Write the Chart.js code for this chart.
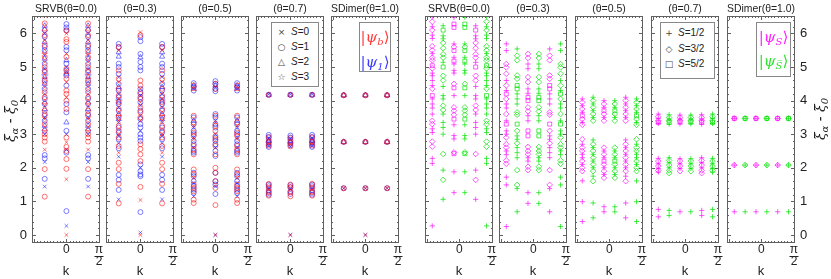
<!DOCTYPE html>
<html>
<head>
<meta charset="utf-8">
<script src="https://cdn.jsdelivr.net/npm/chart.js@4.4.1/dist/chart.umd.min.js"></script>
<style>
  html, body { margin: 0; padding: 0; background: #fff; }
  #fig { position: relative; width: 831px; height: 279px; overflow: hidden; font-family: "Liberation Sans", Arial, sans-serif; color: #222; }
  .panel { position: absolute; top: 0; height: 279px; }
  .ylab { position: absolute; width: 80px; height: 20px; line-height: 20px; text-align: center; transform: rotate(-90deg);
          font-family: "DejaVu Serif", serif; font-size: 14px; font-style: italic; white-space: nowrap; }
  .ylab sub { font-size: 10px; vertical-align: -3px; line-height: 0; }
  .box { position: absolute; border: 1.5px solid #888; background: #fff; box-sizing: border-box; }
  .mk { position: absolute; width: 12px; margin-left: -6px; text-align: center; font-family: "DejaVu Sans", sans-serif; font-size: 9px; color: #444; height: 14px; line-height: 14px; }
  .lt { position: absolute; font-size: 10px; height: 14px; line-height: 14px; white-space: nowrap; color: #222; }
  .ket { position: absolute; left: 0; width: 100%; text-align: center; font-family: "DejaVu Serif", serif; font-size: 15px; height: 20px; line-height: 20px; white-space: nowrap; }
  .ket sub { font-size: 10px; vertical-align: -3px; line-height: 0; }
</style>
</head>
<body>
<div id="fig"></div>
<script>
// ---- data: entanglement levels [xi_alpha - xi_0, S] per momentum column ----
// left group, |psi_b> (red) and |psi_1> (blue); side = k = +-pi/3, mid = k = 0
const PB_SIDE_00 = [[6.53,0],[6.3,1],[6.12,2],[5.95,1],[5.8,0],[5.65,1],[5.45,2],[5.3,1],[5.15,0],[5.0,1],[4.85,1],[4.7,2],[4.55,1],[4.4,0],[4.25,1],[4.1,1],[3.95,2],[3.85,0],[3.7,1],[3.55,1],[3.45,0],[3.3,1],[3.15,2],[3.0,1],[2.9,1],[2.78,1],[2.54,0],[1.96,1],[1.14,1]];
const PB_MID_00 = [[6.08,1],[6.0,0],[5.83,1],[5.75,1],[5.4,0],[5.3,1],[4.95,1],[4.85,2],[4.65,1],[4.55,0],[4.3,1],[4.2,1],[4.1,0],[4.0,1],[3.75,1],[2.9,1],[2.76,0],[2.62,1],[2.5,1],[2.26,1],[1.97,1],[1.66,0],[0,0]];
const P1_SIDE_00 = [[6.23,2],[6.1,1],[6.0,0],[5.9,1],[5.75,2],[5.6,1],[5.5,1],[5.35,0],[5.25,2],[5.1,1],[4.95,0],[4.9,1],[4.75,3],[4.6,1],[4.5,2],[4.35,1],[4.2,0],[4.05,1],[3.9,1],[3.75,2],[3.6,1],[3.5,0],[3.4,1],[3.25,2],[3.1,1],[3.0,0],[2.38,1],[2.28,1],[2.17,0],[1.67,1],[1.44,0]];
const P1_MID_00 = [[6.28,1],[6.18,1],[6.1,1],[5.6,1],[5.5,1],[5.2,2],[5.1,1],[5.0,0],[4.9,1],[4.8,2],[4.75,1],[4.45,1],[3.9,1],[3.65,1],[3.35,2],[3.1,1],[3.0,0],[2.55,0],[2.45,1],[0.71,1],[0.27,0]];

const PB_SIDE_03 = [[5.6,1],[5.5,0],[4.9,1],[4.65,1],[4.55,0],[4.35,1],[4.15,1],[4.05,0],[3.95,1],[3.75,1],[3.6,2],[3.5,1],[3.4,0],[3.25,1],[3.1,1],[3.0,0],[2.9,1],[2.65,1],[2.45,0],[2.15,1],[1.96,1],[1.52,1],[0.94,1]];
const PB_MID_03 = [[6.04,0],[5.95,1],[4.6,1],[4.45,1],[4.35,0],[4.2,1],[4.05,1],[3.95,0],[3.8,1],[3.65,1],[3.5,1],[3.4,0],[2.7,1],[2.56,1],[2.4,1],[2.2,1],[1.43,1],[1.04,0],[0,0]];
const P1_SIDE_03 = [[5.69,1],[5.59,1],[5.44,2],[5.31,2],[5.1,1],[5.0,1],[4.8,1],[4.7,0],[4.5,1],[4.4,2],[4.3,1],[4.2,0],[4.1,1],[4.0,3],[3.9,1],[3.8,0],[3.7,1],[3.55,1],[3.45,2],[3.35,0],[3.2,1],[3.05,1],[2.95,0],[2.85,1],[2.73,0],[2.58,1],[2.33,0],[1.79,1],[1.64,1],[1.34,1],[1.06,0]];
const P1_MID_03 = [[5.89,1],[5.77,1],[5.39,1],[5.29,2],[5.15,1],[5.0,1],[4.9,1],[4.35,1],[4.25,1],[4.15,0],[4.1,1],[3.95,1],[3.85,0],[3.7,1],[3.55,0],[3.45,1],[3.3,1],[3.2,1],[3.1,0],[3.0,1],[2.9,1],[2.8,1],[2.1,1],[2.0,0],[1.9,1],[1.8,1],[1.75,1],[0.68,1],[0.07,0]];

const PB_SIDE_05 = [[4.45,1],[4.35,2],[3.55,1],[3.35,1],[3.25,0],[3.05,1],[2.95,1],[2.85,0],[2.65,1],[2.55,1],[2.4,1],[1.95,1],[1.8,1],[1.7,0],[1.5,1],[1.4,1],[1.3,1],[1.05,1],[0.95,1]];
const PB_MID_05 = [[4.5,1],[4.35,1],[3.55,1],[3.35,0],[3.25,1],[3.1,1],[2.95,1],[2.85,1],[2.65,1],[2.4,1],[2.0,1],[1.85,1],[1.6,1],[1.4,1],[0.89,1],[0,0]];
const P1_SIDE_05 = [[4.52,1],[4.45,2],[4.4,1],[4.35,0],[4.3,1],[3.5,1],[3.4,2],[3.3,1],[3.2,0],[3.1,1],[3.0,1],[2.9,0],[2.8,1],[2.7,1],[2.6,0],[2.5,1],[2.45,1],[1.85,1],[1.75,1],[1.6,1],[1.55,0],[1.45,1],[1.35,1],[1.25,1],[1.15,0]];
const P1_MID_05 = [[4.58,1],[4.5,1],[4.45,2],[4.4,0],[4.35,1],[4.28,1],[3.6,1],[3.5,1],[3.4,0],[3.3,1],[3.2,1],[3.0,0],[2.9,1],[2.8,1],[2.7,1],[2.6,0],[2.5,1],[2.35,1],[1.85,1],[1.6,1],[1.5,1],[1.45,0],[1.22,1],[0,0]];

const PB_SIDE_07 = [[4.17,1],[2.9,1],[2.78,1],[2.72,0],[2.66,1],[1.52,1],[1.4,1],[1.36,0],[1.28,1],[1.17,1]];
const PB_MID_07 = [[4.17,1],[2.88,1],[2.76,1],[2.7,0],[2.64,1],[1.5,1],[1.42,1],[1.35,0],[1.27,1],[1.15,1],[0,0]];
const P1_SIDE_07 = [[4.17,1],[4.17,2],[4.19,0],[2.98,1],[2.92,1],[2.88,0],[2.83,1],[2.8,2],[2.75,1],[2.7,1],[2.65,0],[2.62,1],[1.5,1],[1.45,1],[1.38,0],[1.33,1],[1.25,1],[1.2,1]];
const P1_MID_07 = [[4.17,1],[4.17,2],[4.19,0],[2.96,1],[2.9,1],[2.86,0],[2.82,1],[2.78,2],[2.73,1],[2.68,1],[2.63,0],[1.48,1],[1.42,1],[1.37,0],[1.3,1],[1.22,1],[0,0]];

const PB_SIDE_10 = [[4.16,1],[4.16,2],[2.77,1],[2.77,2],[1.39,1],[1.39,0]];
const PB_MID_10 = [[4.16,1],[4.16,2],[2.77,1],[2.77,2],[1.39,1],[1.39,0],[0,0]];
const P1_SIDE_10 = [[4.16,1],[4.16,2],[2.77,1],[2.77,2],[1.39,1],[1.39,0]];
const P1_MID_10 = [[4.16,1],[4.16,2],[2.77,1],[2.77,2],[1.39,1],[1.39,0],[0,0]];

// right group: three column spectra A, B, C; |psi_S> (magenta) at k=-5pi/12, pi/4, -pi/12,
// |psi_Sbar> (green) at the mirrored momenta
const PS_A_00 = [[6.5,1],[6.35,3],[6.2,1],[6.1,3],[5.95,1],[5.85,1],[5.62,3],[5.5,3],[5.4,1],[5.28,3],[5.2,3],[5.04,5],[4.96,3],[4.82,1],[4.74,1],[4.6,1],[4.45,1],[4.35,3],[4.15,5],[4.05,1],[3.9,1],[3.78,1],[3.6,1],[3.4,3],[3.3,3],[3.16,1],[3.05,1],[2.78,3],[2.63,3],[2.28,1],[2.13,1],[0.27,1]];
const PS_B_00 = [[6.23,1],[6.1,5],[5.93,1],[5.84,1],[5.72,3],[5.56,3],[5.38,3],[5.28,3],[5.14,1],[5.0,5],[4.74,3],[4.6,3],[4.42,1],[4.15,1],[4.05,1],[3.85,3],[3.72,3],[3.6,1],[3.35,1],[3.2,1],[3.0,1],[2.41,3],[1.93,1],[1.64,3],[1.06,1]];
const PS_C_00 = [[6.48,1],[6.28,5],[6.18,5],[5.69,1],[5.6,3],[5.49,5],[5.29,1],[5.18,5],[5.09,1],[4.9,1],[4.82,1],[4.5,3],[4.38,5],[4.15,1],[3.8,3],[3.7,3],[3.58,3],[3.45,5],[3.28,1],[2.96,1],[2.86,1],[2.46,3],[2.42,5],[1.88,1],[1.26,1]];

const PS_A_03 = [[5.69,1],[5.49,1],[5.09,3],[4.99,3],[4.8,3],[4.6,1],[4.45,3],[4.3,1],[4.2,5],[4.05,3],[3.9,1],[3.78,1],[3.6,3],[3.4,1],[3.3,5],[3.1,1],[3.0,1],[2.9,3],[2.7,3],[2.6,3],[2.5,1],[2.39,1],[2.22,3],[2.12,3],[1.72,1],[1.49,1],[0.25,1]];
const PS_B_03 = [[5.54,1],[5.34,3],[5.2,3],[4.75,3],[4.65,3],[4.45,5],[4.35,5],[4.2,1],[4.05,1],[3.9,1],[3.65,3],[3.58,3],[3.3,5],[3.1,3],[2.95,1],[2.85,1],[2.73,3],[2.6,1],[2.45,1],[2.3,1],[1.93,3],[1.49,3],[1.38,1],[0.69,1]];
const PS_C_03 = [[5.39,3],[5.27,3],[5.09,1],[4.95,1],[4.7,3],[4.55,3],[4.35,1],[4.22,1],[4.1,5],[4.0,5],[3.8,3],[3.68,3],[3.55,1],[3.4,1],[3.1,5],[2.95,5],[2.62,3],[2.5,3],[2.4,3],[2.3,1],[2.2,1],[2.03,3],[1.93,3],[1.26,1],[0.94,1]];

const PS_A_05 = [[4.05,1],[3.95,3],[3.85,1],[3.75,3],[3.65,1],[3.55,5],[3.45,3],[3.35,1],[3.28,3],[2.85,3],[2.7,1],[2.6,3],[2.5,3],[2.4,1],[2.3,1],[2.2,3],[2.1,1],[2.0,3],[1.9,3],[1.61,1],[0.99,1],[0.4,1]];
const PS_B_05 = [[4.1,1],[4.0,3],[3.9,1],[3.8,3],[3.7,1],[3.6,3],[3.5,1],[3.4,3],[2.83,1],[2.7,3],[2.6,1],[2.5,3],[2.4,1],[2.3,3],[2.2,1],[2.1,3],[2.0,1],[1.9,3],[1.75,1],[1.6,3],[0.95,1],[0.51,1]];
const PS_C_05 = [[4.0,1],[3.9,3],[3.8,1],[3.7,5],[3.6,3],[3.5,1],[3.4,3],[2.6,3],[2.5,1],[2.4,3],[2.3,1],[2.2,5],[2.1,3],[2.0,1],[1.9,3],[1.8,1],[1.7,3],[0.84,1],[0.69,1]];

const PS_A_07 = [[3.6,1],[3.52,3],[3.47,1],[3.4,3],[3.35,5],[3.32,1],[2.28,1],[2.2,3],[2.12,1],[2.05,3],[1.98,1],[1.92,3],[1.87,1],[0.76,1],[0.54,1]];
const PS_B_07 = [[3.58,1],[3.5,3],[3.45,1],[3.4,3],[3.35,5],[3.3,1],[2.3,1],[2.22,3],[2.15,1],[2.08,3],[2.0,1],[1.92,3],[1.84,3],[0.73,1],[0.58,1]];
const PS_C_07 = [[3.57,1],[3.5,3],[3.45,1],[3.4,3],[3.36,5],[3.31,1],[2.27,1],[2.2,3],[2.12,1],[2.05,3],[1.98,1],[1.9,3],[0.69,1]];

const PS_A_10 = [[3.47,1],[3.47,3],[3.47,5],[2.08,1],[2.08,3],[0.69,1]];
const PS_B_10 = [[3.47,1],[3.47,3],[3.47,5],[2.08,1],[2.08,3],[0.69,1]];
const PS_C_10 = [[3.47,1],[3.47,3],[3.47,5],[2.08,1],[2.08,3],[0.69,1]];

const TITLES = ['SRVB(θ=0.0)', '(θ=0.3)', '(θ=0.5)', '(θ=0.7)', 'SDimer(θ=1.0)'];
const LEFT_PSIB = [[PB_SIDE_00, PB_MID_00], [PB_SIDE_03, PB_MID_03], [PB_SIDE_05, PB_MID_05], [PB_SIDE_07, PB_MID_07], [PB_SIDE_10, PB_MID_10]];
const LEFT_PSI1 = [[P1_SIDE_00, P1_MID_00], [P1_SIDE_03, P1_MID_03], [P1_SIDE_05, P1_MID_05], [P1_SIDE_07, P1_MID_07], [P1_SIDE_10, P1_MID_10]];
const RIGHT_COLS = [[PS_A_00, PS_B_00, PS_C_00], [PS_A_03, PS_B_03, PS_C_03], [PS_A_05, PS_B_05, PS_C_05], [PS_A_07, PS_B_07, PS_C_07], [PS_A_10, PS_B_10, PS_C_10]];
const Y_TICKS = [0, 1, 2, 3, 4, 5, 6];
const LEG_LEFT = ['0', '1', '2', '3'];
const LEG_RIGHT = ['1/2', '3/2', '5/2'];

// ---- layout / style ----
const FIG_W = 831;
const PANEL_LEFT = [32, 106, 181, 256, 331, 425, 499, 575, 651, 727];
const PANEL_W = 68;
const X_MIN = -1.66, X_MAX = 1.62, Y_MIN = -0.24, Y_MAX = 6.52;
const K_SIDE = Math.PI / 3;
const K_A = 5 * Math.PI / 12, K_B = Math.PI / 4, K_C = Math.PI / 12;
const RED = 'rgba(255,0,0,0.55)', BLUE = 'rgba(0,0,255,0.5)';
const MAG = 'rgba(255,0,255,0.65)', GRN = 'rgba(0,225,0,0.7)';
const TICK_PAD = 1, TICK_LH = 12;

function starImage(color) {
    const c = document.createElement('canvas');
    c.width = 8; c.height = 8;
    const g = c.getContext('2d');
    g.strokeStyle = color; g.lineWidth = 1;
    g.beginPath();
    for (let i = 0; i < 10; i++) {
        const r = i % 2 ? 1.5 : 3.4;
        const a = -Math.PI / 2 + i * Math.PI / 5;
        g.lineTo(4 + r * Math.cos(a), 4.3 + r * Math.sin(a));
    }
    g.closePath(); g.stroke();
    return c;
}

function markerSet(data, style, r, color) {
    return { data, pointStyle: style, pointRadius: r, pointBorderColor: color,
             pointBackgroundColor: 'rgba(0,0,0,0)', pointBorderWidth: 1, showLine: false };
}

const STYLE_L = { 0: 'crossRot', 1: 'circle', 2: 'triangle' };
const RADIUS_L = { 0: 2.6, 1: 2.5, 2: 3, 3: 3 };
function leftSets(side, mid, color) {
    return [0, 1, 2, 3].map(S => {
        const data = [];
        side.forEach(([v, s]) => { if (s === S) data.push({ x: -K_SIDE, y: v }, { x: K_SIDE, y: v }); });
        mid.forEach(([v, s]) => { if (s === S) data.push({ x: 0, y: v }); });
        return markerSet(data, S === 3 ? starImage(color) : STYLE_L[S], RADIUS_L[S], color);
    }).filter(d => d.data.length);
}

const STYLE_R = { 1: 'cross', 3: 'rectRot', 5: 'rect' };
const RADIUS_R = { 1: 2.6, 3: 2.8, 5: 2.8 };
function rightSets(cols, sign, color) {
    const ks = [sign * K_A, -sign * K_B, sign * K_C];
    return [1, 3, 5].map(S => {
        const data = [];
        cols.forEach((col, j) => col.forEach(([v, s]) => { if (s === S) data.push({ x: ks[j], y: v }); }));
        return markerSet(data, STYLE_R[S], RADIUS_R[S], color);
    }).filter(d => d.data.length);
}

const axesFrame = {
    id: 'axesFrame',
    afterDatasetsDraw(chart) {
        const { ctx, chartArea: a, scales: { x, y } } = chart;
        ctx.save();
        ctx.strokeStyle = '#606060';
        ctx.lineWidth = 1;
        ctx.beginPath();
        for (let i = 0; i <= 35; i++) {
            const v = i / 5;
            if (v > Y_MAX) break;
            const py = Math.round(y.getPixelForValue(v)) + 0.5;
            const len = i % 5 === 0 ? 4 : 2;
            ctx.moveTo(a.left, py); ctx.lineTo(a.left + len, py);
            ctx.moveTo(a.right, py); ctx.lineTo(a.right - len, py);
        }
        for (let i = -10; i <= 10; i++) {
            const v = i * Math.PI / 20;
            if (v < X_MIN || v > X_MAX) continue;
            const px = Math.round(x.getPixelForValue(v)) + 0.5;
            const len = i % 10 === 0 ? 4 : 2;
            ctx.moveTo(px, a.bottom); ctx.lineTo(px, a.bottom - len);
            ctx.moveTo(px, a.top); ctx.lineTo(px, a.top + len);
        }
        ctx.stroke();
        ctx.strokeRect(Math.round(a.left) + 0.5, Math.round(a.top) + 0.5,
                       Math.round(a.right - a.left) - 1, Math.round(a.bottom - a.top) - 1);
        // fraction bar of the pi/2 tick label
        const fx = x.getPixelForValue(Math.PI / 2);
        const fy = Math.round(a.bottom + TICK_PAD + TICK_LH) + 0.5;
        ctx.strokeStyle = '#222';
        ctx.beginPath();
        ctx.moveTo(fx - 4.5, fy); ctx.lineTo(fx + 4.5, fy);
        ctx.stroke();
        ctx.restore();
    }
};

const fig = document.getElementById('fig');

function addPanel(idx, title, datasets, yPos) {
    const L = PANEL_LEFT[idx];
    let boxLeft = L - 10, boxW = PANEL_W + 20, padL = 10, padR = 10, yW = 0;
    if (yPos === 'left') { boxLeft = 0; boxW = L + PANEL_W + 10; padL = 0; yW = L; }
    if (yPos === 'right') { boxW = FIG_W - boxLeft; padR = 0; yW = FIG_W - L - PANEL_W; }
    const div = document.createElement('div');
    div.className = 'panel';
    div.style.left = boxLeft + 'px';
    div.style.width = boxW + 'px';
    const cv = document.createElement('canvas');
    div.appendChild(cv);
    fig.appendChild(div);

    new Chart(cv, {
        type: 'scatter',
        data: { datasets },
        plugins: [axesFrame],
        options: {
            responsive: true, maintainAspectRatio: false, animation: false, events: [],
            layout: { padding: { left: padL, right: padR, top: 0, bottom: 0 } },
            plugins: {
                legend: { display: false },
                tooltip: { enabled: false },
                title: {
                    display: true, text: title, fullSize: false, color: '#222',
                    font: { family: 'Liberation Sans', size: 10.5, weight: 'normal', lineHeight: 1.2 },
                    padding: { top: 2.5, bottom: 0.9 }
                }
            },
            scales: {
                x: {
                    type: 'linear', position: 'bottom', min: X_MIN, max: X_MAX,
                    afterBuildTicks: s => { s.ticks = [{ value: 0 }, { value: Math.PI / 2 }]; },
                    afterFit: s => { s.height = 36; },
                    grid: { display: false, drawTicks: false }, border: { display: false },
                    ticks: {
                        autoSkip: false, maxRotation: 0, padding: TICK_PAD, color: '#222',
                        font: { family: 'Liberation Sans', size: 12, lineHeight: TICK_LH / 12 },
                        callback: v => Math.abs(v) < 1e-9 ? '0' : ['π', '2']
                    },
                    title: { display: true, text: 'k', color: '#222', padding: 0,
                             font: { family: 'Liberation Sans', size: 13 } }
                },
                y: {
                    type: 'linear', min: Y_MIN, max: Y_MAX,
                    display: yPos === 'left' || yPos === 'right',
                    position: yPos === 'right' ? 'right' : 'left',
                    afterBuildTicks: s => { s.ticks = Y_TICKS.map(v => ({ value: v })); },
                    afterFit: s => { s.width = yW; },
                    grid: { display: false, drawTicks: false }, border: { display: false },
                    ticks: { padding: 5, color: '#222', font: { family: 'Liberation Sans', size: 13 } }
                }
            }
        }
    });
}

for (let p = 0; p < 5; p++) {
    const ds = [
        ...leftSets(LEFT_PSIB[p][0], LEFT_PSIB[p][1], RED),
        ...leftSets(LEFT_PSI1[p][0], LEFT_PSI1[p][1], BLUE)
    ];
    addPanel(p, TITLES[p], ds, p === 0 ? 'left' : null);
}
for (let p = 0; p < 5; p++) {
    const ds = [
        ...rightSets(RIGHT_COLS[p], -1, MAG),
        ...rightSets(RIGHT_COLS[p], 1, GRN)
    ];
    addPanel(5 + p, TITLES[p], ds, p === 4 ? 'right' : null);
}

// ---- y-axis titles ----
function yLabel(cx, cy) {
    const d = document.createElement('div');
    d.className = 'ylab';
    d.style.left = (cx - 40) + 'px';
    d.style.top = (cy - 10) + 'px';
    d.innerHTML = 'ξ<sub>α</sub> - ξ<sub>0</sub>';
    fig.appendChild(d);
}
yLabel(10, 121);
yLabel(820, 119);

// ---- spin legends ----
function spinLegend(left, top, w, h, glyphs, labels, mkX, txtX, rowTop, rowGap) {
    const b = document.createElement('div');
    b.className = 'box';
    Object.assign(b.style, { left: left + 'px', top: top + 'px', width: w + 'px', height: h + 'px' });
    labels.forEach((lab, i) => {
        const m = document.createElement('div');
        m.className = 'mk';
        m.style.left = mkX + 'px';
        m.style.top = (rowTop + i * rowGap) + 'px';
        m.textContent = glyphs[i];
        const t = document.createElement('div');
        t.className = 'lt';
        t.style.left = txtX + 'px';
        t.style.top = (rowTop + i * rowGap) + 'px';
        t.innerHTML = '<i>S</i>=' + lab;
        b.appendChild(m); b.appendChild(t);
    });
    fig.appendChild(b);
}
spinLegend(271, 22, 48, 65, ['×', '○', '△', '☆'], LEG_LEFT, 9.5, 19, 1.5, 15.3);
spinLegend(660, 22, 55, 57, ['+', '◇', '□'], LEG_RIGHT, 8, 17, 3, 15.5);

function stateLegend(left, top, w, h, kets) {
    const b = document.createElement('div');
    b.className = 'box';
    Object.assign(b.style, { left: left + 'px', top: top + 'px', width: w + 'px', height: h + 'px' });
    kets.forEach(([html, color, y]) => {
        const k = document.createElement('div');
        k.className = 'ket';
        k.style.top = y + 'px';
        k.style.color = color;
        k.innerHTML = html;
        b.appendChild(k);
    });
    fig.appendChild(b);
}
stateLegend(359, 22, 32, 50, [
    ['|<i>ψ</i><sub><i>b</i></sub>⟩', '#ff3b3b', 4],
    ['|<i>ψ</i><sub><i>1</i></sub>⟩', '#3b3bff', 29]
]);
stateLegend(756, 22, 35, 55, [
    ['|<i>ψ</i><sub><i>S</i></sub>⟩', '#ff22ff', 4],
    ['|<i>ψ</i><sub><i>S̅</i></sub>⟩', '#33e033', 28]
]);
</script>
</body>
</html>
